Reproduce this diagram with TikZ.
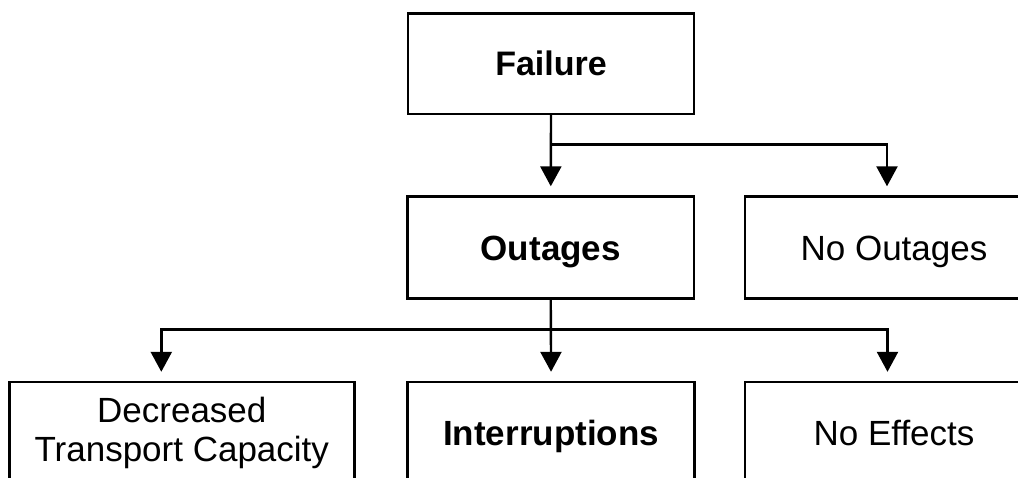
\documentclass[tikz,border=0pt]{standalone}
\usepackage{fontspec}
\setmainfont{Liberation Sans}
\usetikzlibrary{arrows.meta}
\begin{document}
\begin{tikzpicture}[x=1pt,y=-1pt,
  box/.style={draw=black,line width=2.4pt,rectangle,inner sep=0pt,align=center,
    font=\fontsize{35}{39.3}\selectfont},
  one/.style={text height=25pt,text depth=0pt},
  boldbox/.style={box,font=\fontsize{35}{39.3}\selectfont\bfseries},
  arr/.style={line width=2.4pt,-{Triangle[length=20pt,width=21pt]},shorten >=9pt}]
\useasboundingbox (0,0) rectangle (1018,477);
\node[boldbox,one,minimum width=286pt,minimum height=100.5pt,font=\fontsize{34}{39}\selectfont\bfseries,text height=24.3pt] (fail) at (551,63.75) {Failure};
\node[boldbox,one,minimum width=286.5pt,minimum height=102pt] (out) at (550.75,247.5) {Outages};
\node[box,one,minimum width=298pt,minimum height=102pt] (noout) at (894,247.5) {No Outages};
\node[box,minimum width=345pt,minimum height=102pt] (dec) at (181.8,433) {Decreased\\Transport Capacity};
\node[boldbox,one,minimum width=287pt,minimum height=102pt] (int) at (551.1,433) {Interruptions};
\node[box,one,minimum width=298pt,minimum height=102pt] (noeff) at (894,433) {No Effects};
\coordinate (b1) at (550.5,144.5);
\coordinate (b2) at (550.5,329.3);
\draw[arr] (fail.south) -- (out.north);
\draw[arr] (b1) -| ([xshift=-7pt]noout.north);
\draw[arr] (out.south) -- (int.north);
\draw[arr] (b2) -| ([xshift=-20.5pt]dec.north);
\draw[arr] (b2) -| ([xshift=-6.5pt]noeff.north);
\end{tikzpicture}
\end{document}
